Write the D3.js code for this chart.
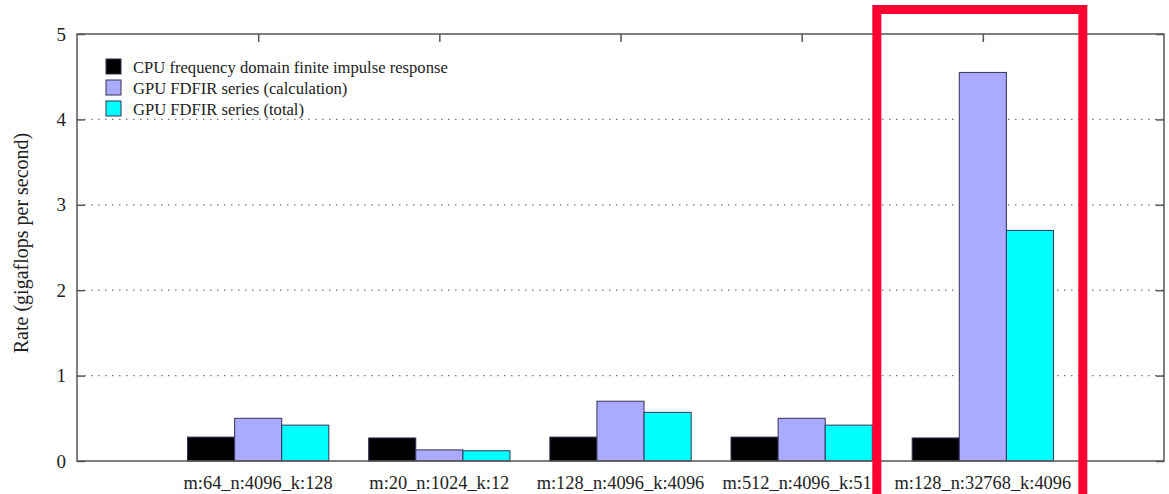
<!DOCTYPE html>
<html>
<head>
<meta charset="utf-8">
<script src="https://cdn.jsdelivr.net/npm/d3@7"></script>
<style>
  body { margin: 0; background: #fff; }
  svg { font-family: "Liberation Serif", "DejaVu Serif", serif; }
</style>
</head>
<body>
<div id="chart"></div>
<script>
// data
const categories = ["m:64_n:4096_k:128", "m:20_n:1024_k:12", "m:128_n:4096_k:4096", "m:512_n:4096_k:512", "m:128_n:32768_k:4096"];
const seriesNames = ["CPU frequency domain finite impulse response", "GPU FDFIR series (calculation)", "GPU FDFIR series (total)"];
const cpuValues = [0.28, 0.27, 0.28, 0.28, 0.27];
const gpuCalcValues = [0.50, 0.13, 0.70, 0.50, 4.55];
const gpuTotalValues = [0.42, 0.12, 0.57, 0.42, 2.70];
const yTicks = [0, 1, 2, 3, 4, 5];
const colors = ["#000000", "#aaaaff", "#00ffff"];

const series = [cpuValues, gpuCalcValues, gpuTotalValues];

const svgWidth = 1169;
const svgHeight = 494;
const margin = { top: 34, right: 5, bottom: 33, left: 77 };

const svg = d3.select("#chart")
    .append("svg")
    .attr("width", svgWidth)
    .attr("height", svgHeight);

// gnuplot style: groups at 0..n-1, range padded by one slot each side
const x = d3.scaleLinear()
    .domain([-1, categories.length])
    .range([margin.left, svgWidth - margin.right]);

const y = d3.scaleLinear()
    .domain([0, 5])
    .range([svgHeight - margin.bottom, margin.top]);

const barW = 0.26;

// dotted grid lines
svg.append("g")
    .selectAll("line")
    .data(yTicks.filter(d => d > 0 && d < 5))
    .enter()
    .append("line")
    .attr("x1", x(-1))
    .attr("x2", x(categories.length))
    .attr("y1", d => y(d))
    .attr("y2", d => y(d))
    .attr("stroke", "#777")
    .attr("stroke-width", 1.3)
    .attr("stroke-dasharray", "1.5,5.5");

// bars
series.forEach(function (vals, j) {
    svg.append("g")
        .selectAll("rect")
        .data(vals)
        .enter()
        .append("rect")
        .attr("x", (d, i) => x(i + (j - 1) * barW - barW / 2))
        .attr("width", x(barW) - x(0))
        .attr("y", d => y(d))
        .attr("height", d => y(0) - y(d))
        .attr("fill", colors[j])
        .attr("stroke", "#333355")
        .attr("stroke-width", 1);
});

// frame
svg.append("rect")
    .attr("x", x(-1))
    .attr("y", y(5))
    .attr("width", x(categories.length) - x(-1))
    .attr("height", y(0) - y(5))
    .attr("fill", "none")
    .attr("stroke", "#555")
    .attr("stroke-width", 1.5);

// y axis (left) with inward ticks
const yAxisLeft = svg.append("g")
    .attr("class", "axis axis-y")
    .attr("transform", `translate(${x(-1)},0)`)
    .call(d3.axisRight(y).tickValues(yTicks).tickSize(8).tickFormat(""));
yAxisLeft.select(".domain").remove();
yAxisLeft.selectAll("line").attr("stroke", "#555").attr("stroke-width", 1.5);

const yAxisRight = svg.append("g")
    .attr("transform", `translate(${x(categories.length)},0)`)
    .call(d3.axisLeft(y).tickValues(yTicks).tickSize(8).tickFormat(""));
yAxisRight.select(".domain").remove();
yAxisRight.selectAll("line").attr("stroke", "#555").attr("stroke-width", 1.5);

// y labels
svg.append("g")
    .selectAll("text")
    .data(yTicks)
    .enter()
    .append("text")
    .attr("x", x(-1) - 11)
    .attr("y", d => y(d))
    .attr("dy", "0.35em")
    .attr("text-anchor", "end")
    .attr("font-size", "19px")
    .attr("fill", "#222")
    .text(d => d);

// top ticks at group centres
const xTop = svg.append("g")
    .attr("transform", `translate(0,${y(5)})`)
    .call(d3.axisBottom(x).tickValues(d3.range(categories.length)).tickSize(8).tickFormat(""));
xTop.select(".domain").remove();
xTop.selectAll("line").attr("stroke", "#555").attr("stroke-width", 1.5);

// x labels
svg.append("g")
    .selectAll("text")
    .data(categories)
    .enter()
    .append("text")
    .attr("x", (d, i) => x(i))
    .attr("y", y(0) + 28)
    .attr("text-anchor", "middle")
    .attr("font-size", "18.4px")
    .attr("fill", "#222")
    .text(d => d);

// y title
svg.append("text")
    .attr("transform", `translate(28,243) rotate(-90)`)
    .attr("text-anchor", "middle")
    .attr("font-size", "20px")
    .attr("fill", "#222")
    .text("Rate (gigaflops per second)");

// legend
const legend = svg.append("g")
    .selectAll("g")
    .data(seriesNames)
    .enter()
    .append("g")
    .attr("transform", (d, i) => `translate(106,${59 + i * 21})`);

legend.append("rect")
    .attr("width", 15)
    .attr("height", 15)
    .attr("fill", (d, i) => colors[i])
    .attr("stroke", "#333355")
    .attr("stroke-width", 1);

legend.append("text")
    .attr("x", 27)
    .attr("y", 8)
    .attr("dy", "0.35em")
    .attr("font-size", "16.6px")
    .attr("fill", "#222")
    .text(d => d);

// red highlight box round the last group
svg.append("rect")
    .attr("x", x(categories.length - 1) - 106)
    .attr("y", 9.5)
    .attr("width", 206)
    .attr("height", 520)
    .attr("fill", "none")
    .attr("stroke", "#ff0033")
    .attr("stroke-width", 9);
</script>
</body>
</html>
